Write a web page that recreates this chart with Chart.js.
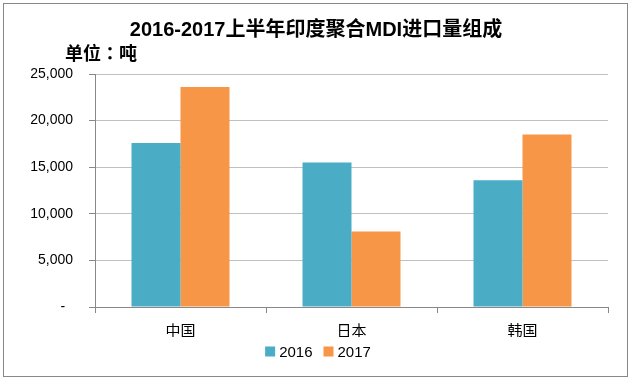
<!DOCTYPE html>
<html><head><meta charset="utf-8">
<script src="https://cdn.jsdelivr.net/npm/chart.js@4"></script>
<style>html,body{margin:0;padding:0;background:#fff}#wrap{width:632px;height:382px;position:relative}</style>
</head><body><div id="wrap"><canvas id="c" width="632" height="382"></canvas></div>
<script>
const titleText = '2016-2017上半年印度聚合MDI进口量组成';
const unitText = '单位：吨';
const categories = ['中国', '日本', '韩国'];
const seriesNames = ['2016', '2017'];
const values2016 = [17600, 15500, 13600];
const values2017 = [23600, 8100, 18500];
const yMin = 0, yMax = 25000, yStep = 5000;
const seriesColors = ['#4BACC6', '#F79646'];

const FONT_LATIN = "'Liberation Sans', 'Noto Sans CJK SC', sans-serif";
const FONT_CJK = "'Noto Sans CJK SC', 'Liberation Sans', sans-serif";
const FONT_UNIT = "'Noto Sans CJK TC', 'Noto Sans CJK SC', sans-serif";

const decorPlugin = {
  id: 'decor',
  afterDraw(chart) {
    const ctx = chart.ctx;
    ctx.save();
    // outer frame
    ctx.strokeStyle = '#888888';
    ctx.lineWidth = 1;
    ctx.strokeRect(3.5, 3.5, 624, 373);
    // title
    ctx.fillStyle = '#000000';
    ctx.textAlign = 'center';
    ctx.textBaseline = 'middle';
    ctx.font = "bold 20px " + FONT_LATIN;
    ctx.fillText(titleText, 316, 30);
    // unit
    ctx.textAlign = 'left';
    ctx.font = "bold 18px " + FONT_UNIT;
    ctx.fillText(unitText, 65, 53);
    // legend
    ctx.font = "15px " + FONT_LATIN;
    const ds = chart.data.datasets;
    const box = 10, gapText = 4, gapItem = 11;
    const widths = ds.map(d => box + gapText + ctx.measureText(d.label).width);
    const total = widths.reduce((a, b) => a + b, 0) + gapItem * (ds.length - 1);
    let x = 318 - total / 2;
    const cy = 351.5;
    ds.forEach((d, i) => {
      ctx.fillStyle = d.backgroundColor;
      ctx.fillRect(x, cy - box / 2, box, box);
      ctx.fillStyle = '#000000';
      ctx.textBaseline = 'middle';
      ctx.fillText(d.label, x + box + gapText, cy + 1);
      x += widths[i] + gapItem;
    });
    ctx.restore();
  }
};

new Chart(document.getElementById('c'), {
  type: 'bar',
  data: {
    labels: categories,
    datasets: [
      { label: seriesNames[0], data: values2016, backgroundColor: seriesColors[0], borderWidth: 0 },
      { label: seriesNames[1], data: values2017, backgroundColor: seriesColors[1], borderWidth: 0 }
    ]
  },
  options: {
    responsive: false,
    animation: false,
    devicePixelRatio: 1,
    categoryPercentage: 0.573,
    barPercentage: 1,
    layout: { padding: { top: 74, left: 0, right: 24, bottom: 45 } },
    plugins: { legend: { display: false }, title: { display: false }, tooltip: { enabled: false } },
    scales: {
      x: {
        afterFit(s) { s.height = 30; },
        border: { color: '#888888', width: 1 },
        grid: { display: true, drawOnChartArea: false, tickLength: 6, color: '#888888', offset: true },
        ticks: { color: '#000000', padding: 8, font: { size: 15, family: FONT_CJK } }
      },
      y: {
        min: yMin, max: yMax,
        afterFit(s) { s.width = 95; },
        border: { color: '#888888', width: 1 },
        grid: { color: '#C0C0C0', tickColor: '#888888', tickLength: 6 },
        ticks: {
          stepSize: yStep,
          color: '#000000',
          padding: 16,
          font: { size: 14, family: FONT_LATIN },
          callback: v => v === 0 ? '-  ' : v.toLocaleString('en-US')
        }
      }
    }
  },
  plugins: [decorPlugin]
});
</script></body></html>
